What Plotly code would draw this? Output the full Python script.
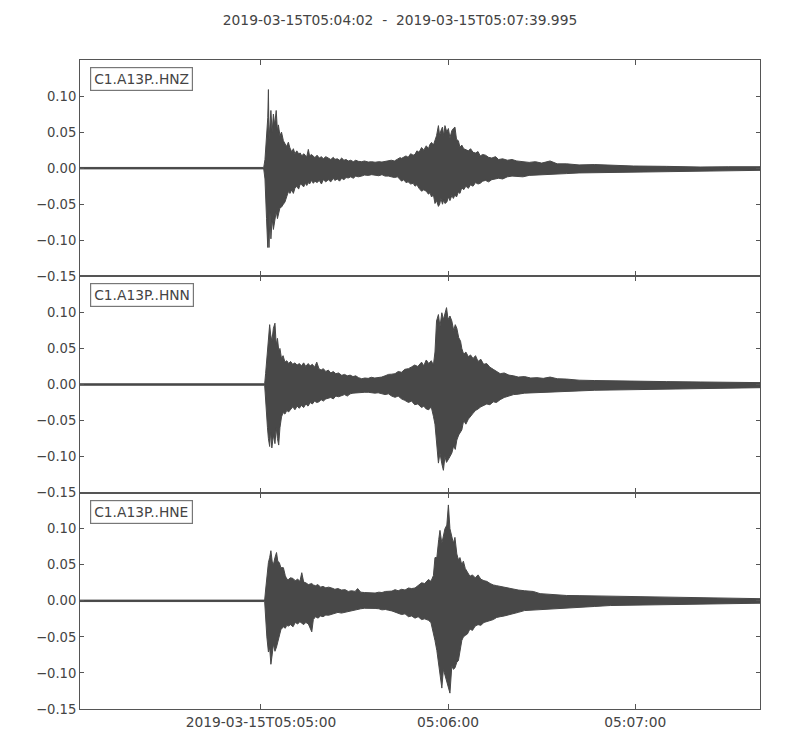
import pandas as pd
import plotly.graph_objects as go
from plotly.subplots import make_subplots

START = "2019-03-15 05:04:02"
END = "2019-03-15 05:07:39.995"
TITLE = "2019-03-15T05:04:02  -  2019-03-15T05:07:39.995"
channels = ["C1.A13P..HNZ", "C1.A13P..HNN", "C1.A13P..HNE"]

x_tickvals = ["2019-03-15 05:05:00", "2019-03-15 05:06:00", "2019-03-15 05:07:00"]
x_ticktext = ["2019-03-15T05:05:00", "05:06:00", "05:07:00"]
y_tickvals = [-0.15, -0.10, -0.05, 0.0, 0.05, 0.10]

# Envelope of each trace: seconds after START, upper and lower amplitude
hnz_t = [0, 58.9, 59.3, 59.8, 60.2, 60.4, 60.6, 60.9, 61.2, 61.6, 62.0, 62.4, 62.9, 63.3, 63.6, 64.1,
         64.6, 65.2, 65.7, 66.2, 66.8, 67.3, 67.9, 68.4, 68.9, 69.5, 70.1, 70.6, 71.1, 71.7, 72.2, 72.7,
         73.2, 73.6, 74.2, 74.8, 75.3, 76.0, 76.7, 77.4, 78.0, 78.8, 79.6, 80.4, 81.2, 81.7, 82.5, 83.2,
         83.9, 84.6, 85.3, 86.0, 86.8, 87.6, 88.4, 89.2, 90.3, 91.2, 92.4, 93.5, 94.6, 95.8, 96.8, 97.8,
         98.9, 99.8, 100.8, 101.8, 102.6, 103.1, 103.8, 104.5, 105.2, 106.0, 106.8, 107.4, 108.0, 108.7,
         109.5, 110.2, 111.0, 111.7, 112.2, 112.7, 113.3, 113.8, 114.3, 114.9, 115.3, 115.7, 116.2, 116.6,
         117.0, 117.6, 118.1, 118.6, 119.2, 119.7, 120.2, 120.7, 121.3, 121.8, 122.4, 123.0, 123.7, 124.5,
         125.2, 126.0, 126.8, 127.6, 128.3, 129.1, 130.0, 131.0, 132.0, 133.2, 134.2, 135.5, 137.0, 138.5,
         140.0, 142.0, 144.0, 146.0, 148.0, 150.7, 153.0, 156.0, 160.0, 165.0, 170.0, 177.4, 188.0, 198.8,
         208.0, 218.0]
hnz_up = [0.001, 0.001, 0.012, 0.05, 0.07, 0.109, 0.04, 0.06, 0.08, 0.05, 0.075, 0.06, 0.08, 0.052, 0.06, 0.045,
          0.05, 0.038, 0.033, 0.03, 0.036, 0.028, 0.0225, 0.027, 0.02, 0.024, 0.02, 0.021, 0.017, 0.02, 0.018, 0.016,
          0.026, 0.017, 0.019, 0.016, 0.0147, 0.018, 0.014, 0.016, 0.013, 0.016, 0.014, 0.012, 0.015, 0.0122, 0.013, 0.011,
          0.014, 0.011, 0.012, 0.0099, 0.011, 0.009, 0.011, 0.0095, 0.009, 0.01, 0.0085, 0.009, 0.0082, 0.009, 0.0085, 0.0095,
          0.0099, 0.011, 0.01, 0.012, 0.0146, 0.0136, 0.015, 0.017, 0.015, 0.02, 0.018, 0.0192, 0.024, 0.022,
          0.0286, 0.025, 0.031, 0.027, 0.033, 0.0357, 0.032, 0.04, 0.045, 0.059, 0.045, 0.052, 0.057, 0.045,
          0.059, 0.05, 0.055, 0.042, 0.052, 0.055, 0.057, 0.04, 0.038, 0.029, 0.032, 0.027, 0.026, 0.024,
          0.027, 0.022, 0.021, 0.023, 0.017, 0.019, 0.018, 0.015, 0.014, 0.016, 0.012, 0.013, 0.011, 0.012,
          0.01, 0.009, 0.008, 0.009, 0.007, 0.01, 0.006, 0.006, 0.0045, 0.005, 0.004, 0.003, 0.0025, 0.0016,
          0.002, 0.002]
hnz_lo = [-0.001, -0.001, -0.015, -0.07, -0.11, -0.09, -0.11, -0.06, -0.098, -0.07, -0.085, -0.075, -0.06, -0.07, -0.068, -0.055,
          -0.054, -0.05, -0.047, -0.04, -0.0325, -0.035, -0.03, -0.035, -0.028, -0.025, -0.029, -0.022, -0.023, -0.026, -0.021, -0.024,
          -0.02, -0.022, -0.017, -0.021, -0.018, -0.02, -0.017, -0.022, -0.016, -0.019, -0.016, -0.019, -0.014, -0.017, -0.015, -0.018,
          -0.014, -0.016, -0.013, -0.0136, -0.012, -0.014, -0.011, -0.012, -0.011, -0.0095, -0.01, -0.009, -0.0095, -0.0105, -0.009, -0.011,
          -0.011, -0.012, -0.013, -0.012, -0.016, -0.018, -0.016, -0.02, -0.019, -0.022, -0.021, -0.025, -0.023, -0.028,
          -0.032, -0.03, -0.032, -0.036, -0.034, -0.04, -0.037, -0.049, -0.045, -0.053, -0.05, -0.042, -0.05, -0.044,
          -0.049, -0.047, -0.04, -0.045, -0.038, -0.042, -0.037, -0.04, -0.033, -0.035, -0.027, -0.03, -0.025, -0.028,
          -0.023, -0.025, -0.02, -0.022, -0.021, -0.018, -0.017, -0.019, -0.016, -0.015, -0.014, -0.015, -0.012, -0.011,
          -0.011, -0.012, -0.01, -0.009, -0.009, -0.009, -0.008, -0.0075, -0.0066, -0.006, -0.006, -0.005, -0.0045, -0.004,
          -0.0035, -0.003]

hnn_t = [0, 59.2, 59.5, 59.8, 60.1, 60.4, 60.8, 61.1, 61.5, 62.0, 62.5, 62.9, 63.3, 63.7, 64.1, 64.6,
         65.1, 65.7, 66.3, 66.9, 67.5, 68.2, 68.9, 69.6, 70.3, 71.0, 71.7, 72.4, 73.1, 73.8, 74.5, 75.2,
         75.9, 76.6, 77.3, 78.0, 78.8, 79.6, 80.4, 81.2, 82.0, 82.9, 83.9, 84.8, 85.7, 86.6, 87.5, 88.4,
         89.3, 90.3, 91.3, 92.4, 93.4, 94.5, 95.6, 96.7, 97.8, 98.9, 99.9, 101.0, 102.0, 103.1, 104.1,
         105.3, 106.3, 107.3, 108.3, 109.5, 110.2, 111.0, 111.8, 112.6, 113.3, 113.8, 114.3, 114.9, 115.4,
         116.0, 116.5, 117.0, 117.5, 118.0, 118.6, 119.2, 119.8, 120.3, 120.8, 121.4, 122.0, 122.4, 123.0,
         123.7, 124.5, 125.2, 126.0, 126.8, 127.6, 128.5, 129.4, 130.4, 131.4, 132.5, 133.5, 134.7, 136.0,
         137.5, 139.0, 140.5, 142.5, 144.5, 146.5, 148.5, 150.7, 153.0, 156.0, 160.0, 165.0, 170.0, 177.4,
         188.0, 198.8, 208.0, 218.0]
hnn_up = [0.001, 0.001, 0.015, 0.03, 0.045, 0.052, 0.083, 0.07, 0.06, 0.078, 0.085, 0.055, 0.064, 0.048, 0.05, 0.036,
          0.04, 0.031, 0.033, 0.029, 0.032, 0.028, 0.03, 0.027, 0.029, 0.026, 0.03, 0.025, 0.029, 0.026, 0.028, 0.024,
          0.031, 0.022, 0.02, 0.022, 0.018, 0.02, 0.016, 0.018, 0.015, 0.016, 0.0127, 0.014, 0.012, 0.013, 0.011, 0.012,
          0.0095, 0.008, 0.009, 0.0085, 0.01, 0.009, 0.0095, 0.0103, 0.012, 0.014, 0.0143, 0.015, 0.018, 0.017, 0.021,
          0.022, 0.0244, 0.027, 0.025, 0.031, 0.026, 0.034, 0.029, 0.033, 0.027, 0.045, 0.088, 0.097, 0.08,
          0.0995, 0.09, 0.1, 0.1066, 0.09, 0.095, 0.088, 0.075, 0.083, 0.078, 0.065, 0.06, 0.05, 0.042,
          0.045, 0.0385, 0.041, 0.036, 0.04, 0.032, 0.035, 0.028, 0.029, 0.024, 0.021, 0.018, 0.015, 0.016,
          0.013, 0.012, 0.0103, 0.011, 0.009, 0.0095, 0.0085, 0.0103, 0.008, 0.0075, 0.006, 0.0055, 0.005, 0.0044,
          0.004, 0.0035, 0.003, 0.0026]
hnn_lo = [-0.001, -0.001, -0.02, -0.039, -0.06, -0.075, -0.086, -0.065, -0.088, -0.07, -0.082, -0.06, -0.075, -0.084, -0.06, -0.045,
          -0.039, -0.041, -0.036, -0.038, -0.034, -0.031, -0.035, -0.03, -0.033, -0.029, -0.032, -0.027, -0.03, -0.025, -0.027, -0.023,
          -0.025, -0.024, -0.021, -0.023, -0.02, -0.019, -0.018, -0.02, -0.016, -0.017, -0.015, -0.014, -0.016, -0.013, -0.012, -0.0117,
          -0.012, -0.011, -0.0108, -0.0108, -0.011, -0.012, -0.0115, -0.0131, -0.014, -0.013, -0.016, -0.0178, -0.016, -0.02, -0.022,
          -0.0249, -0.023, -0.028, -0.027, -0.032, -0.03, -0.034, -0.035, -0.031, -0.044, -0.055, -0.081, -0.109, -0.095,
          -0.11, -0.119, -0.1, -0.108, -0.105, -0.1, -0.095, -0.085, -0.09, -0.077, -0.07, -0.066, -0.063, -0.05,
          -0.055, -0.048, -0.044, -0.04, -0.036, -0.034, -0.031, -0.029, -0.027, -0.028, -0.024, -0.025, -0.021, -0.018,
          -0.016, -0.014, -0.0134, -0.012, -0.0115, -0.011, -0.0105, -0.011, -0.01, -0.0095, -0.0089, -0.008, -0.0075, -0.0066,
          -0.006, -0.0056, -0.005, -0.0044]

hne_t = [0, 59.2, 59.5, 59.9, 60.4, 60.8, 61.2, 61.6, 62.0, 62.5, 63.0, 63.4, 63.9, 64.4, 65.2, 65.8,
         66.3, 66.8, 67.5, 68.3, 69.0, 69.8, 70.5, 71.1, 71.7, 72.4, 73.2, 74.3, 74.8, 75.5, 76.3, 77.1,
         77.9, 78.8, 79.7, 80.7, 81.7, 82.7, 83.8, 85.0, 86.0, 87.0, 88.2, 89.0, 90.0, 91.2, 92.4, 93.5,
         94.6, 95.8, 96.8, 97.9, 98.9, 100.0, 101.0, 102.0, 103.1, 104.2, 105.3, 106.3, 107.4, 108.4,
         109.5, 110.5, 111.7, 112.5, 113.3, 113.8, 114.4, 115.0, 115.4, 116.0, 116.5, 117.0, 117.6, 118.1,
         118.6, 119.2, 119.7, 120.2, 120.8, 121.3, 121.8, 122.4, 122.9, 123.5, 124.2, 125.0, 125.8, 126.7,
         127.6, 128.5, 129.5, 130.4, 131.5, 132.5, 133.6, 134.7, 136.0, 137.5, 139.0, 140.5, 142.5, 145.3,
         147.5, 150.0, 153.0, 156.0, 160.0, 165.0, 170.0, 177.4, 188.0, 198.8, 208.0, 218.0]
hne_up = [0.001, 0.001, 0.015, 0.035, 0.053, 0.06, 0.0695, 0.055, 0.05, 0.06, 0.067, 0.055, 0.053, 0.046, 0.046, 0.035,
          0.03, 0.0296, 0.032, 0.031, 0.028, 0.03, 0.027, 0.039, 0.026, 0.025, 0.0225, 0.024, 0.022, 0.021, 0.0225, 0.019,
          0.02, 0.018, 0.019, 0.0178, 0.016, 0.017, 0.015, 0.0155, 0.013, 0.014, 0.0131, 0.017, 0.012, 0.0115, 0.011, 0.0108,
          0.0108, 0.012, 0.0115, 0.013, 0.0131, 0.0135, 0.0155, 0.014, 0.016, 0.015, 0.0178, 0.017, 0.0178, 0.021,
          0.025, 0.024, 0.0296, 0.027, 0.035, 0.06, 0.06, 0.085, 0.0977, 0.08, 0.09, 0.1, 0.105, 0.133,
          0.1, 0.09, 0.08, 0.088, 0.065, 0.057, 0.06, 0.05, 0.055, 0.045, 0.04, 0.034, 0.036, 0.032,
          0.036, 0.03, 0.028, 0.027, 0.024, 0.022, 0.021, 0.02, 0.019, 0.017, 0.016, 0.015, 0.014, 0.013,
          0.01, 0.009, 0.008, 0.0074, 0.0072, 0.0068, 0.006, 0.0055, 0.0048, 0.0041, 0.0035, 0.003]
hne_lo = [-0.001, -0.001, -0.025, -0.05, -0.071, -0.065, -0.088, -0.075, -0.06, -0.07, -0.064, -0.06, -0.05, -0.04, -0.036, -0.038,
          -0.034, -0.035, -0.033, -0.036, -0.03, -0.032, -0.029, -0.031, -0.033, -0.03, -0.032, -0.043, -0.026, -0.022, -0.024, -0.021,
          -0.022, -0.0197, -0.02, -0.018, -0.0175, -0.016, -0.017, -0.015, -0.014, -0.013, -0.0127, -0.012, -0.011, -0.0103, -0.011, -0.0103,
          -0.0105, -0.011, -0.0125, -0.012, -0.013, -0.014, -0.015, -0.017, -0.019, -0.018, -0.022, -0.021, -0.024, -0.022,
          -0.026, -0.025, -0.027, -0.03, -0.045, -0.055, -0.069, -0.085, -0.1, -0.121, -0.095, -0.102, -0.11, -0.12,
          -0.128, -0.09, -0.095, -0.093, -0.085, -0.083, -0.07, -0.055, -0.05, -0.048, -0.046, -0.039, -0.041, -0.035,
          -0.033, -0.034, -0.03, -0.029, -0.027, -0.026, -0.023, -0.022, -0.021, -0.019, -0.018, -0.016, -0.0135, -0.0127,
          -0.012, -0.011, -0.0105, -0.0103, -0.009, -0.0078, -0.0065, -0.0056, -0.005, -0.0047, -0.004, -0.0033]

traces = [(hnz_t, hnz_up, hnz_lo), (hnn_t, hnn_up, hnn_lo), (hne_t, hne_up, hne_lo)]

WAVE = "#484848"
TEXT = "#444444"
SPINE = "#555555"
FONT = "DejaVu Sans"
FS = 13.8

# the page body adds an 8px margin, so the figure is 8px smaller than the window
W, H = 792, 742

fig = make_subplots(rows=3, cols=1, shared_xaxes=True, vertical_spacing=0)
start = pd.Timestamp(START)
for i, (t, up, lo) in enumerate(traces, start=1):
    times = list(start + pd.to_timedelta(t, unit="s"))
    xs = times + times[::-1]
    ys = list(up) + list(lo)[::-1]
    fig.add_trace(go.Scatter(x=xs, y=ys, mode="lines", fill="toself", fillcolor=WAVE,
                             line=dict(color=WAVE, width=1), hoverinfo="skip", showlegend=False),
                  row=i, col=1)
    fig.update_yaxes(range=[-0.15, 0.15], tickvals=y_tickvals, tickformat=".2f",
                     ticks="inside", ticklen=4, tickcolor=SPINE, showline=True, linecolor=SPINE,
                     linewidth=1, mirror="ticks", showgrid=False, zeroline=False,
                     tickfont=dict(family=FONT, size=13.2, color=TEXT), row=i, col=1)
    fig.update_xaxes(type="date", range=[START, END], tickvals=x_tickvals, ticktext=x_ticktext,
                     ticks="inside", ticklen=5, tickcolor=SPINE, showline=True, linecolor=SPINE,
                     linewidth=1, mirror="ticks", showgrid=False, zeroline=False,
                     showticklabels=(i == 3),
                     tickfont=dict(family=FONT, size=FS, color=TEXT), row=i, col=1)
    yref = "y" if i == 1 else f"y{i}"
    xref = "x" if i == 1 else f"x{i}"
    fig.add_annotation(text=channels[i - 1], xref=f"{xref} domain", yref=f"{yref} domain",
                       x=10 / 680, y=1 - 7 / 216, xanchor="left", yanchor="top", showarrow=False,
                       font=dict(family=FONT, size=FS, color=TEXT), bgcolor="white",
                       bordercolor="#777777", borderwidth=1.2, borderpad=3)
    # very faint watermark
    fig.add_annotation(text="<i>CENTRO SISMOLÓGICO NACIONAL</i><br><i>UNIVERSIDAD DE CHILE</i>",
                       xref=f"{xref} domain", yref=f"{yref} domain",
                       x=(532 - 80) / 680, y=1 - (212 - 60) / 216, xanchor="left", yanchor="top",
                       align="left", showarrow=False,
                       font=dict(family="Roboto", size=14.5, color="rgba(0,0,0,0.025)"))

fig.update_layout(
    width=W, height=H,
    margin=dict(l=72, r=40, t=52, b=41),
    paper_bgcolor="white", plot_bgcolor="white",
    title=dict(text=TITLE, x=392 / W, xref="container", xanchor="center",
               y=1 - 12 / H, yref="container", yanchor="middle",
               font=dict(family=FONT, size=FS, color=TEXT)),
    showlegend=False,
)

fig.write_html("out.html")
